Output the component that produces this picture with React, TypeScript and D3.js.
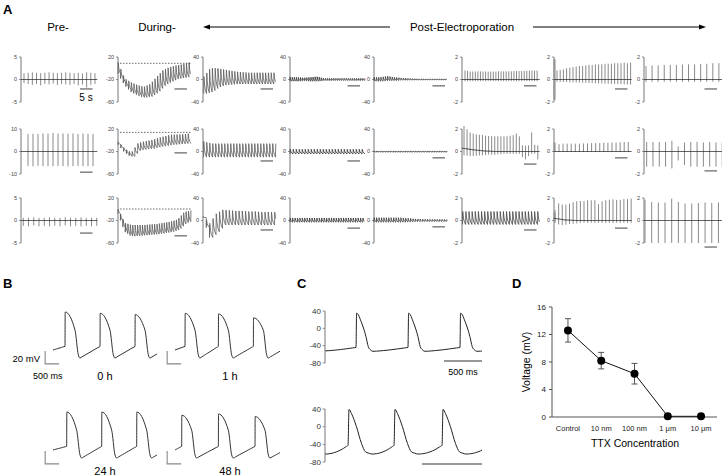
import React from 'react';
import * as d3 from 'd3';

const FONT = '"Liberation Sans", Arial, Helvetica, sans-serif';

// ---------------- Panel A data ----------------
const aTitles = ['Pre-', 'During-'];
const aPostTitle = 'Post-Electroporation';
const aRanges = [
  [[-5, 5], [-60, 20], [-40, 40], [-40, 40], [-40, 40], [-2, 2], [-2, 2], [-2, 2]],
  [[-10, 10], [-60, 20], [-40, 40], [-40, 40], [-40, 40], [-2, 2], [-2, 2], [-2, 2]],
  [[-5, 5], [-60, 20], [-40, 40], [-40, 40], [-40, 40], [-2, 2], [-2, 2], [-2, 2]],
];
const aDurations = [30.5, 29.2, 29.2, 30, 29.2, 31, 31, 32];
const aKinds = [
  ['spike', 'wave', 'wave', 'wave', 'wave', 'spike', 'spike', 'spike'],
  ['spike', 'wave', 'wave', 'wave', 'wave', 'spike', 'spike', 'spike'],
  ['spike', 'wave', 'wave', 'wave', 'wave', 'wave', 'spike', 'spike'],
];
const aFirstBeat = [
  [1.2, 0, 0.3, 0, 0, 1.2, 1.2, 0.8],
  [2.8, 0, 0.2, 0, 0, 0.8, 2, 1.07],
  [0.9, 0, 0, 0, 0, 0.2, 0.4, 0.4],
];
const aPeriods = [
  [1.67, 1.05, 1.12, 0.83, 0.9, 1.03, 1.28, 2.43],
  [2, 1.12, 1.2, 1.2, 0.97, 1.23, 1.63, 2.52],
  [2.1, 0.97, 1.3, 0.97, 0.97, 1.25, 1.45, 2.67],
];
const aPeaks = [
  [
    [1.4, 1.5, 1.6, 1.5, 1.4, 1.5, 1.6, 1.5, 1.4, 1.5, 1.6, 1.5, 1.4, 1.5, 1.3, 1.6, 1.5, 1.4],
    [10, -18, -25, -30, -33, -28, -15, -3, 2, 5, 7, 10],
    [5, 20, 20, 18, 16, 14, 13, 12, 12, 12, 12, 12],
    [4, 4, 3, 4, 5, 2, 2, 2, 2, 2, 2, 2],
    [4, 4, 6, 4, 3, 2, 1.5, 1, 1, 1, 1, 1],
    [0.8, 0.7, 0.72, 0.72, 0.7, 0.7, 0.72, 0.72, 0.72, 0.75, 0.75, 0.78, 0.8, 0.8],
    [0.8, 0.85, 0.9, 1.0, 1.05, 1.1, 1.15, 1.2, 1.2, 1.25, 1.3, 1.3, 1.35, 1.35, 1.35, 1.4, 1.4, 1.4, 1.45, 1.45, 1.45, 1.5, 1.45, 1.5],
    [1.2, 1.25, 1.25, 1.3, 1.3, 1.3, 1.3, 1.35, 1.35, 1.35, 1.4, 1.4, 1.45, 1.45],
  ],
  [
    [7.8, 7.9, 7.8, 8, 8, 8.2, 8, 8, 7.9, 8, 7.8, 8, 7.9, 7.8],
    [-3, -15, -22, -5, -2, 0, 4, 7, 10, 10, 11, 12],
    [18, 14, 14, 14, 14, 14, 14, 14, 14, 14],
    [4],
    [1],
    [2, 1.75, 1.5, 1.45, 1.4, 1.4, 1.4, 1.35, 1.35, 1.35, 1.35, 1.35, 1.35, 1.35, 1.35, 1.4, 1.45, 1.6, 1.35, 0.55, 0.5, 0.55, 1.7, 0.6, 0.55],
    [0.65, 0.7, 0.7, 0.7, 0.7, 0.7, 0.72, 0.72, 0.75, 0.75, 0.75, 0.78, 0.78, 0.8, 0.8, 0.82, 0.85, 0.85],
    [0.85, 0.85, 0.85, 0.85, 0.95, 0.45, 0.8, 0.85, 0.85, 0.8, 0.85, 0.8, 0.85],
  ],
  [
    [0.6, 0.6, 0.7, 0.6, 0.6, 0.7, 0.6, 0.6, 0.7, 0.6, 0.6, 0.7, 0.6, 0.6, 0.6],
    [0, -24, -28, -28, -28, -27, -26, -24, -22, -18, -5, -2],
    [7, -5, 12, 19, 18, 17, 17, 16, 16, 15, 15, 15],
    [4.5],
    [5, 5, 5, 5, 5, 4, 3, 2.5, 2, 2, 2, 2],
    [0.8],
    [0.75, 1.45, 1.3, 1.4, 1.5, 1.7, 1.75, 1.7, 1.8, 1.8, 1.8, 1.4, 1.8, 1.8, 1.9, 1.85, 1.8, 1.9, 1.9, 1.95],
    [1.85, 1.65, 1.6, 1.6, 1.95, 1.65, 1.5, 1.5, 1.55, 1.6, 1.55, 1.6],
  ],
];
const aTroughs = [
  [
    [-0.8, -1, -1.2, -1, -1.3, -1, -1.1, -0.9, -1.2, -1, -1.1, -1.2, -1, -1.3, -1.1, -1.8, -1.2, -1],
    [-10, -30, -42, -48, -52, -50, -42, -30, -24, -19, -17, -15],
    [-25, -22, -14, -10, -9, -8, -8, -8, -8, -8, -8, -8],
    [-3, -3, -2, -3, -3, -1.5, -1.5, -1.5, -1.5, -1.5, -1.5, -1.5],
    [-3, -3, -2, -2, -1, -1, -0.8, -0.8, -0.6, -0.6, -0.6, -0.6],
    [-0.15],
    [-0.2, -0.25, -0.3, -0.35, -0.4, -0.45],
    [-0.2],
  ],
  [
    [-6.5, -6.6, -6.4, -6.5, -6.6, -6.5, -6.4, -6.5, -6.6, -6.5, -6.4, -6.5, -6.6, -6.5],
    [-8, -22, -30, -18, -16, -15, -12, -10, -8, -7, -6, -5],
    [-10],
    [-4.4],
    [-1],
    [-0.6, -0.6, -0.6, -0.55, -0.5, -0.45, -0.4, -0.35, -0.3, -0.3, -0.3, -0.25, -0.25, -0.2, -0.2, -0.2, -0.2, -0.2, -0.2, -0.5, -0.7, -0.4, -0.2, -0.2, -0.7],
    [-0.05],
    [-1.35, -1.35, -1.35, -1.35, -1.5, -0.8, -1.2, -1.35, -1.35, -1.35, -1.35, -1.35, -1.35],
  ],
  [
    [-1.2, -1.3, -1.1, -1.3, -1.2, -1.3, -1.2, -1.3, -1.1, -1.3, -1.2, -1.3, -1.2, -1.3, -1.2],
    [-8, -40, -48, -47, -46, -45, -44, -42, -40, -36, -25, -20],
    [5, -30, -20, -8, -8, -8, -8, -8, -8, -8, -8, -8],
    [-3],
    [-3, -3, -3, -3, -3, -2.5, -2, -1.5, -1.5, -1.5, -1.5, -1.5],
    [-0.35],
    [-0.4, -0.5, -0.5, -0.4, -0.3, -0.3, -0.2, -0.2, -0.2, -0.2, -0.2, -0.2, -0.2, -0.2, -0.2, -0.2, -0.2, -0.2, -0.2, -0.2],
    [-2],
  ],
];
const aBaselines = [
  [[0], [0], [0], [0], [0], [0], [0], [0]],
  [[0], [0], [0], [0], [0], [0.3, 0.15, 0.05, 0, 0, 0, 0, 0], [0], [0]],
  [[0], [0], [0], [0], [0], [0], [0.2, 0.05, 0, 0, 0, 0, 0, 0], [0]],
];
const aArtifacts = [
  [null, null, null, null, null, null, [1.8, -1.8], null],
  [null, null, null, null, null, null, [0.8, 0], null],
  [null, null, null, null, null, null, [0.7, -0.1], null],
];
const aDashedLevels = [8.8, 14, 0.4];
const aScaleBarSeconds = 5;

// layout (positions/styles)
const aAxisX = [21, 118, 203, 290, 374, 462, 554, 644];
const aRowTop = [57, 129, 198];
const aPlotW = 75;
const aPlotH = 45;
const aBarEnd = [28.6, 27.6, 28, 28, 28.4, 29.8, 29.4, 29.2];
const aBarYFrac = [
  [0.71, 0.71, 0.71, 0.64, 0.64, 0.64, 0.71, 0.71],
  [0.96, 0.53, 0.71, 0.71, 0.64, 0.78, 0.64, 0.93],
  [0.78, 0.84, 0.71, 0.67, 0.64, 0.71, 0.67, 1.09],
];
const aWaveColors = ['#777', '#5a5a5a', '#5a5a5a', '#333', '#3a3a3a', '#444', '#777', '#777'];

// ---------------- Panel B data ----------------
const bLabels = ['0 h', '1 h', '24 h', '48 h'];
const bOnsets = [[429, 1679, 2929], [357, 1548, 2798], [488, 1738, 2988], [238, 1548, 2857]];
const bPeaks = [[10, 8, 6], [8, 7, 1], [10, 10, 10], [5, 7, 3]];
const bStart = [-48.6, -48.6, -48.6, -48.6];
const bEnd = [3714, 3750, 3714, 3750];
const bThreshold = -43;
const bRepol = [[357, -18], [475, -56], [535, -61]];
const bScaleMv = 20;
const bScaleMs = 500;
// layout
const bOriginX = [53, 175, 53, 175];
const bZeroY = [318.5, 318.5, 418.5, 418.5];
const bLabelX = [105, 230, 105, 230];
const bLabelY = [380, 380, 475, 475];

// ---------------- Panel C data ----------------
const cOnsets = [[408, 1092, 1776], [192, 575, 975]];
const cPeaks = [[35, 35, 35], [39, 39, 39]];
const cThreshold = [-44, -42];
const cRepol = [
  [[75, 12], [131, -19], [161, -42], [192, -50], [223, -53]],
  [[28, 30], [70, 0], [112, -38], [145, -57], [172, -60], [200, -62]],
];
const cStart = [-52, -62];
const cEnd = [2066, 1308];
const cTicks = [40, 0, -40, -80];
const cScaleMs = 500;
// layout
const cAxisX = 325;
const cTraceRight = 482;
const cTopY = [311, 409];
const cBottomY = [363, 462];
const cBarY = [361, 464];
const cRiseExp = [1.4, 2];

// ---------------- Panel D data ----------------
const dCategories = ['Control', '10 nm', '100 nm', '1 μm', '10 μm'];
const dMeans = [12.6, 8.2, 6.3, 0.1, 0.1];
const dErrors = [1.7, 1.2, 1.5, 0, 0];
const dTicks = [0, 4, 8, 12, 16];

// ---------------- helpers ----------------
function interp(arr: number[], f: number) {
  if (arr.length === 1) return arr[0];
  const p = Math.max(0, Math.min(1, f)) * (arr.length - 1);
  const i = Math.min(arr.length - 2, Math.floor(p));
  const r = p - i;
  return arr[i] * (1 - r) + arr[i + 1] * r;
}

const waveShape = [[0, 0], [0.08, 1], [0.3, 0.5], [0.6, 0.2], [1, 0]];

function apPoints(onsets: number[], peaks: number[], threshold: number, repol: number[][],
  start: number, end: number, riseExp: number, upMs: number) {
  const pts: [number, number][] = [[0, start]];
  const seg = (ta: number, va: number, tb: number, vb: number, stop: number) => {
    for (let k = 1; k <= 10; k++) {
      const s = k / 10;
      const t = ta + (tb - ta) * s;
      if (t > stop) {
        const s2 = (stop - ta) / (tb - ta);
        pts.push([stop, va + (vb - va) * Math.pow(s2, riseExp)]);
        return;
      }
      pts.push([t, va + (vb - va) * Math.pow(s, riseExp)]);
    }
  };
  seg(0, start, onsets[0], threshold, end);
  onsets.forEach((on, i) => {
    pts.push([on + upMs, peaks[i]]);
    repol.forEach(([dt, v]) => pts.push([on + dt, v]));
    const [lastDt, lastV] = repol[repol.length - 1];
    const tA = on + lastDt;
    if (i < onsets.length - 1) seg(tA, lastV, onsets[i + 1], threshold, end);
    else {
      const period = i > 0 ? on - onsets[i - 1] : 1000;
      seg(tA, lastV, on + period, threshold, end);
    }
  });
  return pts;
}

function PanelATrace({ r, c }: { r: number; c: number }) {
  const x0 = aAxisX[c];
  const top = aRowTop[r];
  const [lo, hi] = aRanges[r][c];
  const dur = aDurations[c];
  const xs = d3.scaleLinear().domain([0, 30]).range([x0, x0 + aPlotW]);
  const ys = d3.scaleLinear().domain([lo, hi]).range([top + aPlotH, top]);
  const kind = aKinds[r][c];
  const t0 = aFirstBeat[r][c];
  const period = aPeriods[r][c];
  const n = Math.floor((dur - t0) / period) + 1;
  const beats = d3.range(n).map((i) => t0 + i * period);
  const peaks = aPeaks[r][c];
  const troughs = aTroughs[r][c];
  const ticks = [hi, (hi + lo) / 2, lo];
  const els: React.ReactNode[] = [];
  const line = d3.line<[number, number]>().x((d) => xs(d[0])).y((d) => ys(d[1]));

  if (kind === 'spike') {
    const base = aBaselines[r][c];
    const art = aArtifacts[r][c];
    if (art) {
      els.push(<line key="art" x1={xs(0.2)} x2={xs(0.2)} y1={ys(art[0])} y2={ys(art[1])} stroke="#999" strokeWidth={2.2} />);
    }
    beats.forEach((t, i) => {
      const f = n > 1 ? i / (n - 1) : 0;
      const b = interp(base, t / dur);
      els.push(
        <line key={'s' + i} x1={xs(t)} x2={xs(t)} y1={ys(b + interp(peaks, f))} y2={ys(b + interp(troughs, f))}
          stroke="#8a8a8a" strokeWidth={1} />
      );
    });
    const bpts = d3.range(0, dur + 0.01, 0.25).map((t) => [t, interp(base, t / dur)] as [number, number]);
    els.push(<path key="base" d={line(bpts) || ''} fill="none" stroke="#222" strokeWidth={0.9} />);
  } else {
    const pts: [number, number][] = [];
    beats.forEach((t, i) => {
      const f = n > 1 ? i / (n - 1) : 0;
      const hiV = interp(peaks, f);
      const loV = interp(troughs, f);
      waveShape.forEach(([ph, fr]) => {
        const tt = t + ph * period;
        if (tt <= dur) pts.push([tt, loV + fr * (hiV - loV)]);
      });
    });
    els.push(<path key="wave" d={line(pts) || ''} fill="none" stroke={aWaveColors[c]} strokeWidth={0.8} strokeLinejoin="round" />);
  }

  if (c === 1) {
    els.push(<line key="dash" x1={x0 + 2} x2={xs(dur)} y1={ys(aDashedLevels[r])} y2={ys(aDashedLevels[r])}
      stroke="#444" strokeWidth={0.8} strokeDasharray="1.5,1.5" />);
  }

  const barY = top + aBarYFrac[r][c] * aPlotH;
  els.push(<line key="bar" x1={xs(aBarEnd[c] - aScaleBarSeconds)} x2={xs(aBarEnd[c])} y1={barY} y2={barY} stroke="#888" strokeWidth={1.6} />);

  return (
    <g>
      <line x1={x0} x2={x0} y1={top} y2={top + aPlotH} stroke="#777" strokeWidth={1} />
      {ticks.map((tv, k) => (
        <g key={k}>
          <line x1={x0 - 2} x2={x0} y1={ys(tv)} y2={ys(tv)} stroke="#777" strokeWidth={0.8} />
          <text x={x0 - 4} y={ys(tv)} dy="0.35em" textAnchor="end" fontSize={5.5} fill="#444">{tv}</text>
        </g>
      ))}
      {els}
    </g>
  );
}

function PanelB() {
  const els: React.ReactNode[] = [];
  bLabels.forEach((lab, g) => {
    const xs = d3.scaleLinear().domain([0, 500]).range([bOriginX[g], bOriginX[g] + 14]);
    const ys = d3.scaleLinear().domain([0, -20]).range([bZeroY[g], bZeroY[g] + 12.96]);
    const pts = apPoints(bOnsets[g], bPeaks[g], bThreshold, bRepol, bStart[g], bEnd[g], 1, 6);
    const line = d3.line<[number, number]>().x((d) => xs(d[0])).y((d) => ys(d[1])).curve(d3.curveMonotoneX);
    els.push(<path key={'t' + g} d={line(pts) || ''} fill="none" stroke="#333" strokeWidth={1} />);
    const bx0 = xs(-280), bx1 = xs(-280 + bScaleMs);
    const by0 = ys(-70), by1 = ys(-70 + bScaleMv);
    els.push(<path key={'sb' + g} d={`M${bx0},${by1}L${bx0},${by0}L${bx1},${by0}`} fill="none" stroke="#888" strokeWidth={1.1} />);
    els.push(<text key={'l' + g} x={bLabelX[g]} y={bLabelY[g]} textAnchor="middle" fontSize={11}>{lab}</text>);
  });
  return (
    <g>
      {els}
      <text x={40} y={362} textAnchor="end" fontSize={9.5}>20 mV</text>
      <text x={33} y={379} fontSize={9}>500 ms</text>
    </g>
  );
}

function PanelC() {
  const els: React.ReactNode[] = [];
  [0, 1].forEach((k) => {
    const ys = d3.scaleLinear().domain([-80, 40]).range([cBottomY[k], cTopY[k]]);
    const xs = d3.scaleLinear().domain([0, cEnd[k]]).range([cAxisX, cTraceRight]);
    const pts = apPoints(cOnsets[k], cPeaks[k], cThreshold[k], cRepol[k], cStart[k], cEnd[k], cRiseExp[k], 8);
    const line = d3.line<[number, number]>().x((d) => xs(d[0])).y((d) => ys(d[1])).curve(d3.curveMonotoneX);
    els.push(<path key={'t' + k} d={line(pts) || ''} fill="none" stroke="#222" strokeWidth={1} />);
    els.push(<line key={'ax' + k} x1={cAxisX} x2={cAxisX} y1={cTopY[k]} y2={cBottomY[k]} stroke="#777" strokeWidth={1} />);
    cTicks.forEach((tv) => {
      els.push(<line key={'tk' + k + tv} x1={cAxisX - 2.5} x2={cAxisX} y1={ys(tv)} y2={ys(tv)} stroke="#777" strokeWidth={0.8} />);
      els.push(<text key={'tl' + k + tv} x={cAxisX - 4} y={ys(tv)} dy="0.35em" textAnchor="end" fontSize={8} fill="#333">{tv}</text>);
    });
    els.push(<line key={'sb' + k} x1={xs(cEnd[k] - cScaleMs)} x2={xs(cEnd[k])} y1={cBarY[k]} y2={cBarY[k]} stroke="#333" strokeWidth={1} />);
  });
  return (
    <g>
      {els}
      <text x={463} y={375} textAnchor="middle" fontSize={9}>500 ms</text>
    </g>
  );
}

function PanelD() {
  const xs = d3.scalePoint<string>().domain(dCategories).range([552, 717]).padding(0.48);
  const ys = d3.scaleLinear().domain([0, 16]).range([417, 307]);
  const pts = dCategories.map((c, i) => [xs(c) as number, ys(dMeans[i])] as [number, number]);
  const line = d3.line<[number, number]>();
  return (
    <g>
      <line x1={552} x2={552} y1={307} y2={417} stroke="#555" strokeWidth={1} />
      <line x1={552} x2={717} y1={417} y2={417} stroke="#555" strokeWidth={1} />
      {dTicks.map((t) => (
        <g key={t}>
          <line x1={549} x2={552} y1={ys(t)} y2={ys(t)} stroke="#555" strokeWidth={1} />
          <text x={546} y={ys(t)} dy="0.35em" textAnchor="end" fontSize={8} fill="#222">{t}</text>
        </g>
      ))}
      {dCategories.map((c, i) => {
        const x = xs(c) as number;
        if (!dErrors[i]) return null;
        const y1 = ys(dMeans[i] + dErrors[i]);
        const y2 = ys(dMeans[i] - dErrors[i]);
        return (
          <g key={c} stroke="#555" strokeWidth={1}>
            <line x1={x} x2={x} y1={y1} y2={y2} />
            <line x1={x - 3} x2={x + 3} y1={y1} y2={y1} />
            <line x1={x - 3} x2={x + 3} y1={y2} y2={y2} />
          </g>
        );
      })}
      <path d={line(pts) || ''} fill="none" stroke="#111" strokeWidth={1} />
      {pts.map((p, i) => <circle key={i} cx={p[0]} cy={p[1]} r={4} fill="#000" />)}
      {dCategories.map((c) => (
        <text key={c} x={xs(c) as number} y={431} textAnchor="middle" fontSize={7.5} fill="#222">{c}</text>
      ))}
      <text x={635} y={447} textAnchor="middle" fontSize={10.5}>TTX Concentration</text>
      <text transform="translate(530,362) rotate(-90)" textAnchor="middle" fontSize={10.5}>Voltage (mV)</text>
    </g>
  );
}

export default function App() {
  return (
    <svg width={722} height={476} style={{ position: 'absolute', left: 0, top: 0, background: '#fff' }} fontFamily={FONT}>
      <rect width={722} height={476} fill="#fff" />
      <text x={3} y={14} fontSize={13} fontWeight="bold">A</text>
      <text x={58} y={31} textAnchor="middle" fontSize={11.5}>{aTitles[0]}</text>
      <text x={157} y={31} textAnchor="middle" fontSize={11.5}>{aTitles[1]}</text>
      <text x={462} y={31} textAnchor="middle" fontSize={11.5}>{aPostTitle}</text>
      <line x1={208} x2={390} y1={27} y2={27} stroke="#000" strokeWidth={1} />
      <path d="M203,27L210,24.5L210,29.5Z" fill="#000" />
      <line x1={533} x2={700} y1={27} y2={27} stroke="#000" strokeWidth={1} />
      <path d="M706,27L699,24.5L699,29.5Z" fill="#000" />
      {[0, 1, 2].map((r) => d3.range(8).map((c) => <PanelATrace key={r + '-' + c} r={r} c={c} />))}
      <text x={86} y={101} textAnchor="middle" fontSize={10}>5 s</text>

      <text x={3} y={288} fontSize={13} fontWeight="bold">B</text>
      <PanelB />
      <text x={297} y={288} fontSize={13} fontWeight="bold">C</text>
      <PanelC />
      <text x={512} y={288} fontSize={13} fontWeight="bold">D</text>
      <PanelD />
    </svg>
  );
}
